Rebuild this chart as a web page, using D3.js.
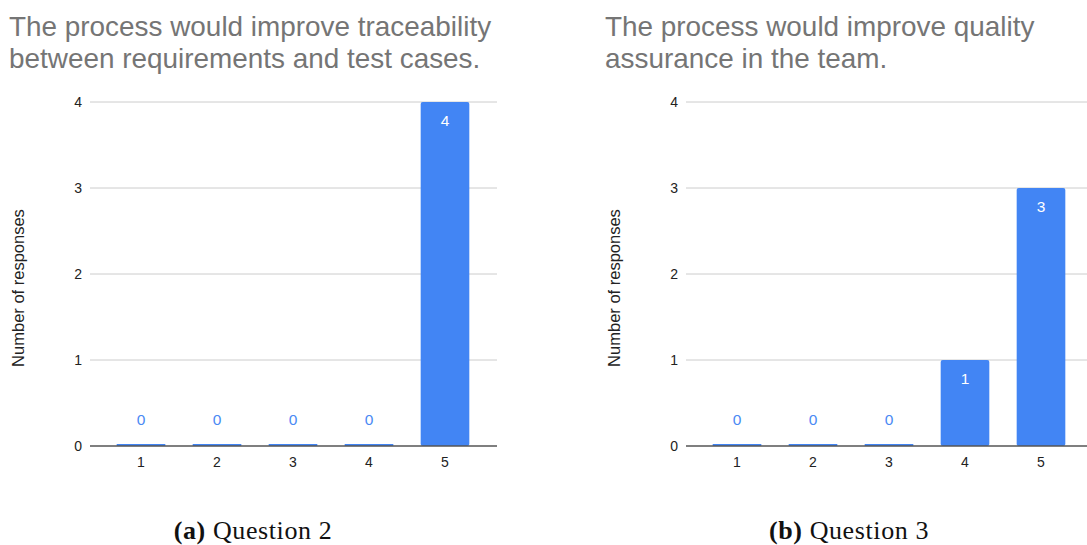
<!DOCTYPE html>
<html><head><meta charset="utf-8">
<script src="https://cdn.jsdelivr.net/npm/d3@7"></script>
<style>body{margin:0;background:#fff;} svg{display:block;}</style>
</head><body>
<svg id="c" width="1087" height="545"></svg>
<script>
const categories = ["1","2","3","4","5"];
const q2Values = [0,0,0,0,4];
const q3Values = [0,0,0,1,3];
const yTicks = [0,1,2,3,4];
const q2Title = ["The process would improve traceability","between requirements and test cases."];
const q3Title = ["The process would improve quality","assurance in the team."];
const captions = [["(a)"," Question 2"],["(b)"," Question 3"]];
const yLabel = "Number of responses";

const svg = d3.select("#c");
const barColor = "#4285f4";
const sans = "Liberation Sans, Arial, sans-serif";

function drawChart(ox, values, title, caption) {
  const g = svg.append("g").attr("transform", `translate(${ox},0)`);
  const gridL = 90, gridR = 497;
  const x = d3.scaleBand().domain(categories).range([103, 483]).paddingInner(0.36).paddingOuter(0.18);
  const y = d3.scaleLinear().domain([0, 4]).range([446, 102]);

  // title
  g.append("text").attr("font-family",sans).attr("font-size",27.9).attr("fill","#757575")
    .selectAll("tspan").data(title).join("tspan").attr("x",9).attr("y",(d,i)=>36+i*32).text(d=>d);

  // gridlines
  g.append("g").selectAll("line").data(yTicks.filter(t=>t>0)).join("line")
    .attr("x1",gridL).attr("x2",gridR).attr("y1",d=>y(d)).attr("y2",d=>y(d))
    .attr("stroke","#cccccc").attr("stroke-width",1);

  // y axis labels
  const ya = g.append("g").attr("transform",`translate(${gridL},0)`)
    .call(d3.axisLeft(y).tickValues(yTicks).tickSize(0).tickPadding(8).tickFormat(d3.format("d")));
  ya.select(".domain").remove();
  ya.selectAll("text").attr("font-family",sans).attr("font-size",14).attr("fill","#222");

  // bars
  g.append("g").selectAll("rect").data(values).join("rect")
    .attr("x",(d,i)=>x(categories[i])).attr("width",x.bandwidth())
    .attr("y",d=>d>0?y(d):y(0)-2).attr("height",d=>d>0?y(0)-y(d):2)
    .attr("rx",d=>d>0?2:0).attr("fill",barColor);

  // bar labels
  g.append("g").selectAll("text").data(values).join("text")
    .attr("x",(d,i)=>x(categories[i])+x.bandwidth()/2)
    .attr("y",d=>d>0?y(d)+24:y(0)-21)
    .attr("text-anchor","middle").attr("font-family",sans).attr("font-size",15.5)
    .attr("fill",d=>d>0?"#ffffff":"#4a8af4").text(d=>d);

  // x axis
  const xa = g.append("g").attr("transform",`translate(0,${y(0)})`)
    .call(d3.axisBottom(x).tickSize(0).tickPadding(11));
  xa.select(".domain").remove();
  xa.selectAll("text").attr("font-family",sans).attr("font-size",14).attr("fill","#222");
  g.append("line").attr("x1",gridL).attr("x2",gridR).attr("y1",y(0)).attr("y2",y(0)).attr("stroke","#555").attr("stroke-width",1.3);

  // y label
  g.append("text").attr("transform",`translate(24,${(y(0)+y(4))/2 + 14}) rotate(-90)`)
    .attr("text-anchor","middle").attr("font-family",sans).attr("font-size",16.5).attr("fill","#222").text(yLabel);

  // caption
  const cap = g.append("text").attr("x",253).attr("y",539).attr("text-anchor","middle")
    .attr("font-family","Liberation Serif, Times New Roman, serif").attr("font-size",26).attr("letter-spacing",0.6).attr("fill","#111");
  cap.append("tspan").attr("font-weight","bold").text(caption[0]);
  cap.append("tspan").text(caption[1]);
}

drawChart(0, q2Values, q2Title, captions[0]);
drawChart(596, q3Values, q3Title, captions[1]);
</script>
</body></html>
